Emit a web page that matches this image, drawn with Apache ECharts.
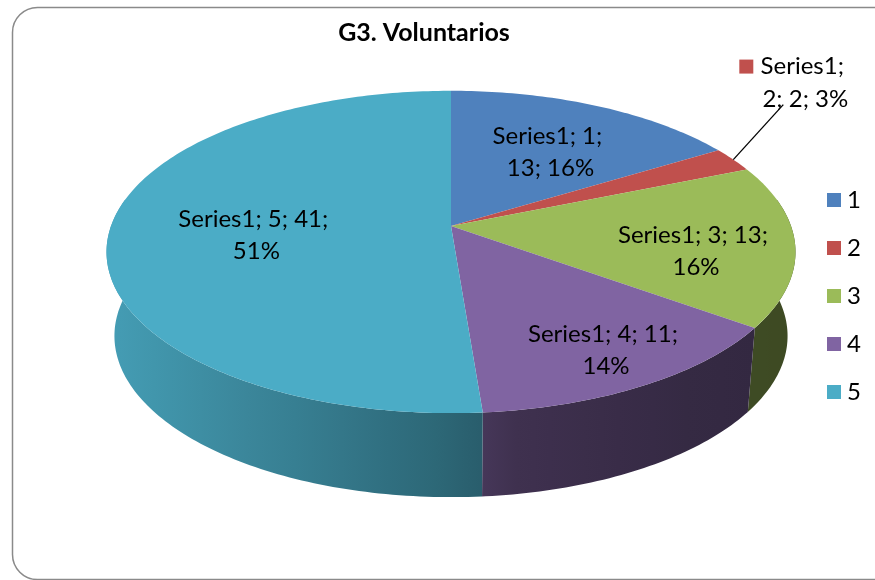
<!DOCTYPE html>
<html>
<head>
<meta charset="utf-8">
<script src="https://cdn.jsdelivr.net/npm/echarts@6.0.0/dist/echarts.min.js"></script>
<style>
  html, body { margin: 0; padding: 0; background: #fff; }
  #chart { width: 875px; height: 580px; }
</style>
</head>
<body>
<div id="chart"></div>
<script>
// chart data
const titleText = 'G3. Voluntarios';
const seriesName = 'Series1';
const categories = ['1', '2', '3', '4', '5'];
const counts = [13, 2, 13, 11, 41];
const sliceColors = ['#4f81bd', '#c0504d', '#9bbb59', '#8064a2', '#4bacc6'];

const total = counts.reduce((a, b) => a + b, 0);
const startAngles = [], endAngles = [];
let acc = 0;
counts.forEach(v => {
  startAngles.push(acc / total * 360);
  acc += v;
  endAngles.push(acc / total * 360);
});
const percents = counts.map(v => Math.round(v / total * 100) + '%');

// 3d pie look (excel style, tilted with a bit of perspective)
const CX = 451, CY = 226, RX = 340, RY = 157, PERSP = 0.161;
const DEPTH = 84, SHRINK = 0.977;
const FONT = 'Lato, "Noto Sans", sans-serif';
// excel "best fit" label spots: distance from centre and a small turn off the mid angle
const labelRadii = [0.6, 1, 0.72, 0.81, 0.57];
const labelTurn = [2.6, 0, 6, -0.7, -3.7];
const wrapWidths = [130, 100, 175, 175, 175];

// angle in degrees, clockwise from 12 o'clock
function proj(deg, r) {
  const t = deg * Math.PI / 180;
  const d = r * Math.cos(t);
  const s = 1 / (1 + PERSP * d);
  return [CX + RX * r * Math.sin(t) * s, CY - RY * d * s];
}

// side walls get darker to the right
const shadeStops = [[100, 0.92], [480, 0.56], [490, 0.5], [700, 0.41], [820, 0.39]];
function shadeAt(x) {
  if (x <= shadeStops[0][0]) return shadeStops[0][1];
  for (let i = 1; i < shadeStops.length; i++) {
    if (x <= shadeStops[i][0]) {
      const a = shadeStops[i - 1], b = shadeStops[i];
      return a[1] + (b[1] - a[1]) * (x - a[0]) / (b[0] - a[0]);
    }
  }
  return shadeStops[shadeStops.length - 1][1];
}
function darken(hex, f) {
  const n = parseInt(hex.slice(1), 16);
  const r = Math.round(((n >> 16) & 255) * f);
  const g = Math.round(((n >> 8) & 255) * f);
  const b = Math.round((n & 255) * f);
  return 'rgb(' + r + ',' + g + ',' + b + ')';
}

function renderItem(params, api) {
  const i = params.dataIndex;
  const a0 = startAngles[i], a1 = endAngles[i];
  const children = [];

  // outer wall, only the front half shows
  const w0 = Math.max(a0, 80), w1 = Math.min(a1, 280);
  if (w1 > w0) {
    const top = [];
    for (let a = w0; ; a += 1) {
      const aa = Math.min(a, w1);
      top.push(proj(aa, 1));
      if (aa >= w1) break;
    }
    const bot = top.map(p => [CX + (p[0] - CX) * SHRINK, p[1] + DEPTH]).reverse();
    const pts = top.concat(bot);
    const xs = pts.map(p => p[0]);
    const xMin = Math.min(...xs), xMax = Math.max(...xs);
    const stops = [];
    for (let k = 0; k <= 8; k++) {
      const x = xMin + (xMax - xMin) * k / 8;
      stops.push({ offset: k / 8, color: darken(sliceColors[i], shadeAt(x)) });
    }
    children.push({
      type: 'polygon',
      z2: 1,
      shape: { points: pts },
      style: {
        fill: { type: 'linear', x: xMin, y: 0, x2: xMax, y2: 0, global: true, colorStops: stops }
      }
    });
  }

  // top face
  const face = [[CX, CY]];
  for (let a = a0; ; a += 1) {
    const aa = Math.min(a, a1);
    face.push(proj(aa, 1));
    if (aa >= a1) break;
  }
  children.push({
    type: 'polygon',
    z2: 10,
    shape: { points: face },
    style: { fill: sliceColors[i] }
  });

  // data label
  const txt = seriesName + '; ' + categories[i] + '; ' + counts[i] + '; ' + percents[i];
  const mid = (a0 + a1) / 2;
  if (counts[i] / total < 0.05) {
    const e = proj(mid, 1);
    const end = [e[0] + 50, e[1] - 55];
    const lx = end[0] + 22, ly = end[1] - 22;
    children.push({
      type: 'polyline', z2: 20,
      shape: { points: [e, end] },
      style: { stroke: '#000', lineWidth: 1.3, fill: null }
    });
    children.push({
      type: 'rect', z2: 20,
      shape: { x: lx - 66, y: ly - 23, width: 14, height: 14 },
      style: { fill: sliceColors[i] }
    });
    children.push({
      type: 'text', z2: 20,
      style: {
        text: txt, x: lx, y: ly, align: 'center', verticalAlign: 'middle',
        width: wrapWidths[i], overflow: 'break',
        fontFamily: FONT, fontSize: 24, lineHeight: 33, fill: '#000'
      }
    });
  } else {
    const p = proj(mid + labelTurn[i], labelRadii[i]);
    children.push({
      type: 'text', z2: 20,
      style: {
        text: txt, x: p[0], y: p[1], align: 'center', verticalAlign: 'middle',
        width: wrapWidths[i], overflow: 'break',
        fontFamily: FONT, fontSize: 24, lineHeight: 32, fill: '#000'
      }
    });
  }
  return { type: 'group', children: children };
}

const chart = echarts.init(document.getElementById('chart'));
chart.setOption({
  animation: false,
  backgroundColor: '#fff',
  title: {
    text: titleText,
    left: 419,
    top: 15,
    textAlign: 'center',
    textStyle: { fontFamily: FONT, fontSize: 25, fontWeight: 'bold', color: '#000' }
  },
  legend: {
    orient: 'vertical',
    left: 827,
    top: 188,
    padding: 0,
    icon: 'rect',
    itemWidth: 14,
    itemHeight: 14,
    itemGap: 24,
    selectedMode: false,
    textStyle: { fontFamily: FONT, fontSize: 24, lineHeight: 24, color: '#000', padding: [0, 0, 0, 1] },
    data: categories
  },
  graphic: [{
    type: 'rect',
    z: -10,
    shape: { x: 12.5, y: 7.5, width: 900, height: 572, r: 25 },
    style: { fill: '#fff', stroke: '#8a8a8a', lineWidth: 1.5 }
  }],
  series: [
    {
      type: 'custom',
      name: seriesName,
      coordinateSystem: 'none',
      silent: true,
      renderItem: renderItem,
      data: counts.map((v, i) => ({ name: categories[i], value: v }))
    },
    {
      // only feeds the legend colours
      type: 'pie',
      name: 'legendKeys',
      radius: [0, 0],
      center: [-50, -50],
      silent: true,
      label: { show: false },
      labelLine: { show: false },
      data: counts.map((v, i) => ({ name: categories[i], value: v, itemStyle: { color: sliceColors[i] } }))
    }
  ]
});
</script>
</body>
</html>
